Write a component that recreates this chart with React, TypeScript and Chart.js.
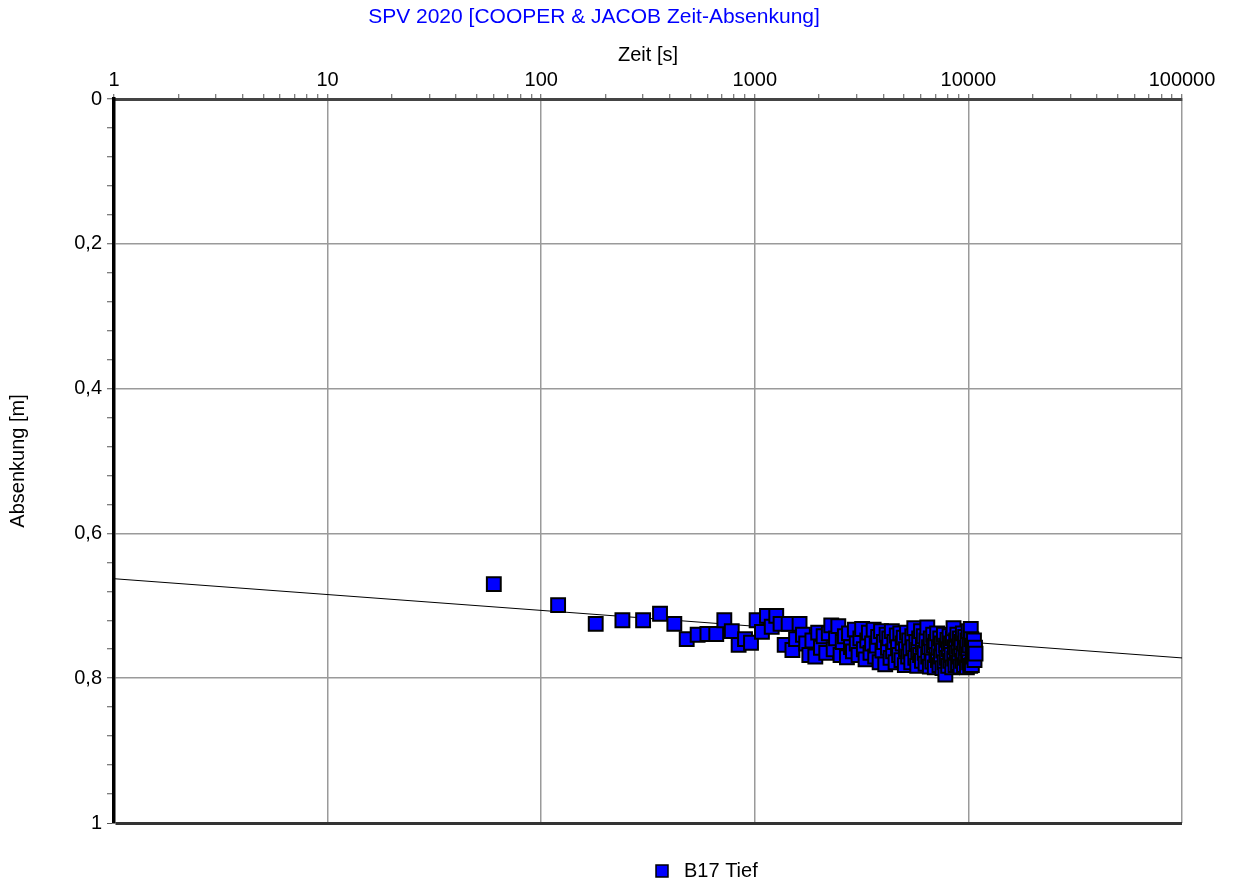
import { useEffect, useRef } from 'react';
import { Chart, registerables } from 'chart.js';

Chart.register(...registerables);

const TITLE = 'SPV 2020 [COOPER & JACOB Zeit-Absenkung]';
const X_TITLE = 'Zeit [s]';
const Y_TITLE = 'Absenkung [m]';
const SERIES_LABEL = 'B17 Tief';

// measured times [s]
const TIME_S = [
  60, 120, 180, 240, 300, 360, 420, 480, 540, 600,
  660, 720, 780, 840, 900, 960, 1020, 1080, 1140, 1200,
  1260, 1320, 1380, 1440, 1500, 1560, 1620, 1680, 1740, 1800,
  1860, 1920, 1980, 2040, 2100, 2160, 2220, 2280, 2340, 2400,
  2460, 2520, 2580, 2640, 2700, 2760, 2820, 2880, 2940, 3000,
  3060, 3120, 3180, 3240, 3300, 3360, 3420, 3480, 3540, 3600,
  3660, 3720, 3780, 3840, 3900, 3960, 4020, 4080, 4140, 4200,
  4260, 4320, 4380, 4440, 4500, 4560, 4620, 4680, 4740, 4800,
  4860, 4920, 4980, 5040, 5100, 5160, 5220, 5280, 5340, 5400,
  5460, 5520, 5580, 5640, 5700, 5760, 5820, 5880, 5940, 6000,
  6060, 6120, 6180, 6240, 6300, 6360, 6420, 6480, 6540, 6600,
  6660, 6720, 6780, 6840, 6900, 6960, 7020, 7080, 7140, 7200,
  7260, 7320, 7380, 7440, 7500, 7560, 7620, 7680, 7740, 7800,
  7860, 7920, 7980, 8040, 8100, 8160, 8220, 8280, 8340, 8400,
  8460, 8520, 8580, 8640, 8700, 8760, 8820, 8880, 8940, 9000,
  9060, 9120, 9180, 9240, 9300, 9360, 9420, 9480, 9540, 9600,
  9660, 9720, 9780, 9840, 9900, 9960, 10020, 10080, 10140, 10200,
  10260, 10320, 10380, 10440, 10500, 10560, 10620, 10680, 10740, 10800,
];

// drawdown [m]
const DRAWDOWN_M = [
  0.670, 0.699, 0.725, 0.720, 0.720, 0.711, 0.725, 0.746, 0.740, 0.739,
  0.739, 0.720, 0.735, 0.754, 0.746, 0.751, 0.720, 0.736, 0.714, 0.729,
  0.714, 0.725, 0.754, 0.725, 0.761, 0.746, 0.725, 0.740, 0.752, 0.768,
  0.748, 0.770, 0.737, 0.758, 0.742, 0.765, 0.738, 0.727, 0.760, 0.745,
  0.728, 0.768, 0.750, 0.742, 0.771, 0.738, 0.757, 0.763, 0.733, 0.752,
  0.768, 0.745, 0.732, 0.760, 0.774, 0.748, 0.737, 0.765, 0.752, 0.733,
  0.770, 0.755, 0.743, 0.778, 0.735, 0.762, 0.750, 0.781, 0.740, 0.758,
  0.745, 0.772, 0.735, 0.763, 0.750, 0.778, 0.741, 0.757, 0.768, 0.738,
  0.775, 0.752, 0.744, 0.782, 0.760, 0.737, 0.770, 0.748, 0.763, 0.778,
  0.742, 0.757, 0.731, 0.772, 0.750, 0.783, 0.761, 0.745, 0.768, 0.735,
  0.776, 0.754, 0.742, 0.765, 0.780, 0.748, 0.730, 0.770, 0.757, 0.784,
  0.745, 0.763, 0.777, 0.740, 0.755, 0.785, 0.750, 0.768, 0.738, 0.775,
  0.758, 0.782, 0.745, 0.770, 0.752, 0.786, 0.762, 0.740, 0.778, 0.795,
  0.755, 0.772, 0.747, 0.783, 0.760, 0.742, 0.776, 0.752, 0.768, 0.785,
  0.745, 0.731, 0.773, 0.757, 0.782, 0.748, 0.765, 0.740, 0.779, 0.756,
  0.770, 0.745, 0.784, 0.760, 0.750, 0.776, 0.738, 0.766, 0.782, 0.752,
  0.743, 0.772, 0.758, 0.785, 0.748, 0.768, 0.735, 0.778, 0.755, 0.783,
  0.732, 0.746, 0.782, 0.755, 0.770, 0.762, 0.748, 0.775, 0.758, 0.766,
];

// Cooper-Jacob straight-line fit
const FIT_TIME_S = [1, 100000];
const FIT_DRAWDOWN_M = [0.6626, 0.772];

const X_MAJOR_TICKS = [1, 10, 100, 1000, 10000, 100000];
const X_TICKS = [
  1, 2, 3, 4, 5, 6, 7, 8, 9,
  10, 20, 30, 40, 50, 60, 70, 80, 90,
  100, 200, 300, 400, 500, 600, 700, 800, 900,
  1000, 2000, 3000, 4000, 5000, 6000, 7000, 8000, 9000,
  10000, 20000, 30000, 40000, 50000, 60000, 70000, 80000, 90000,
  100000,
];
const Y_MAJOR_TICKS = [0, 0.2, 0.4, 0.6, 0.8, 1];
const Y_TICKS = [
  0, 0.04, 0.08, 0.12, 0.16, 0.2, 0.24, 0.28, 0.32, 0.36, 0.4, 0.44, 0.48,
  0.52, 0.56, 0.6, 0.64, 0.68, 0.72, 0.76, 0.8, 0.84, 0.88, 0.92, 0.96, 1,
];

const FONT_FAMILY = '"Liberation Sans", Arial, Helvetica, sans-serif';
const GRID_GRAY = '#9a9a9a';

const isXMajor = (v: number) => X_MAJOR_TICKS.some((m) => Math.abs(m - v) < 1e-9);
const isYMajor = (v: number) => Y_MAJOR_TICKS.some((m) => Math.abs(m - v) < 1e-9);
const fmtY = (v: number) => String(Math.round(v * 10) / 10).replace('.', ',');

const decorPlugin = {
  id: 'decor',
  afterDraw(chart: any) {
    const { ctx, chartArea } = chart;
    ctx.save();
    ctx.font = `21px ${FONT_FAMILY}`;
    ctx.textBaseline = 'middle';
    ctx.textAlign = 'center';
    ctx.fillStyle = '#0000ff';
    ctx.fillText(TITLE, 594, 17);

    // legend
    ctx.font = `20px ${FONT_FAMILY}`;
    const ly = chartArea.bottom + 48;
    ctx.fillStyle = '#0000ff';
    ctx.fillRect(656, ly - 6, 12, 12);
    ctx.strokeStyle = '#000';
    ctx.lineWidth = 1.5;
    ctx.strokeRect(656, ly - 6, 12, 12);
    ctx.fillStyle = '#000';
    ctx.textAlign = 'left';
    ctx.fillText(SERIES_LABEL, 684, ly);
    ctx.restore();
  },
};

export default function App() {
  const canvasRef = useRef<HTMLCanvasElement | null>(null);

  useEffect(() => {
    const canvas = canvasRef.current;
    if (!canvas) return;
    const points = TIME_S.map((t, i) => ({ x: t, y: DRAWDOWN_M[i] }));
    const fit = FIT_TIME_S.map((t, i) => ({ x: t, y: FIT_DRAWDOWN_M[i] }));

    const chart = new Chart(canvas, {
      type: 'scatter',
      data: {
        datasets: [
          {
            type: 'scatter',
            label: SERIES_LABEL,
            data: points,
            pointStyle: 'rect',
            pointRadius: 9.8,
            pointHoverRadius: 9.8,
            backgroundColor: '#0000ff',
            borderColor: '#000000',
            borderWidth: 2,
            order: 1,
          },
          {
            type: 'line',
            label: 'Fit',
            data: fit,
            borderColor: '#000000',
            borderWidth: 1,
            pointRadius: 0,
            fill: false,
            order: 2,
          } as any,
        ],
      },
      options: {
        responsive: false,
        animation: false,
        layout: { padding: { left: 0, top: 0, right: 51, bottom: 60 } },
        plugins: {
          legend: { display: false },
          title: { display: false },
          tooltip: { enabled: false },
        },
        scales: {
          x: {
            type: 'logarithmic',
            position: 'top',
            min: 1,
            max: 100000,
            afterBuildTicks: (s: any) => {
              s.ticks = X_TICKS.map((v) => ({ value: v, major: isXMajor(v) }));
            },
            afterFit: (s: any) => {
              s.height = 99;
            },
            ticks: {
              autoSkip: false,
              maxRotation: 0,
              minRotation: 0,
              padding: 2,
              color: '#000',
              font: { size: 20, family: FONT_FAMILY },
              callback: (v: any) => (isXMajor(Number(v)) ? String(v) : ''),
            },
            grid: {
              color: (c: any) => (c.tick && isXMajor(c.tick.value) ? GRID_GRAY : 'transparent'),
              lineWidth: 1.5,
              tickColor: '#555',
              tickLength: 5,
              tickWidth: 1,
            },
            border: { display: true, color: '#444', width: 3 },
            title: {
              display: true,
              text: X_TITLE,
              color: '#000',
              font: { size: 20, family: FONT_FAMILY },
              padding: { top: 43, bottom: 0 },
            },
          },
          y: {
            type: 'linear',
            reverse: true,
            min: 0,
            max: 1,
            afterBuildTicks: (s: any) => {
              s.ticks = Y_TICKS.map((v) => ({ value: v, major: isYMajor(v) }));
            },
            afterFit: (s: any) => {
              s.width = 114;
            },
            ticks: {
              autoSkip: false,
              padding: 5,
              color: '#000',
              font: { size: 20, family: FONT_FAMILY },
              callback: (v: any) => (isYMajor(Number(v)) ? fmtY(Number(v)) : ''),
            },
            grid: {
              color: (c: any) => {
                if (!c.tick || !isYMajor(c.tick.value)) return 'transparent';
                if (Math.abs(c.tick.value - 1) < 1e-9) return '#333';
                if (Math.abs(c.tick.value) < 1e-9) return '#444';
                return GRID_GRAY;
              },
              lineWidth: (c: any) => (c.tick && Math.abs(c.tick.value - 1) < 1e-9 ? 3 : 1.5),
              tickColor: '#555',
              tickLength: 7,
              tickWidth: 1,
            },
            border: { display: true, color: '#000', width: 3.5 },
            title: {
              display: true,
              text: Y_TITLE,
              color: '#000',
              font: { size: 20, family: FONT_FAMILY },
              padding: { top: 6, bottom: 0 },
            },
          },
        },
      },
      plugins: [decorPlugin],
    } as any);

    return () => chart.destroy();
  }, []);

  return (
    <div style={{ position: 'absolute', left: 0, top: 0, width: 1233, height: 883, background: '#fff' }}>
      <canvas ref={canvasRef} width={1233} height={883} style={{ display: 'block' }} />
    </div>
  );
}
